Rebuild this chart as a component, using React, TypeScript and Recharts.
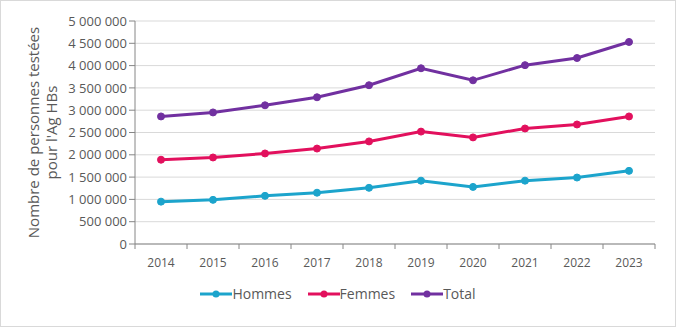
import React from 'react'
import { LineChart, Line, XAxis, YAxis, CartesianGrid, Legend } from 'recharts'

const years = ['2014', '2015', '2016', '2017', '2018', '2019', '2020', '2021', '2022', '2023']
const hommes = [950000, 990000, 1080000, 1150000, 1260000, 1420000, 1280000, 1420000, 1490000, 1640000]
const femmes = [1890000, 1940000, 2030000, 2140000, 2300000, 2520000, 2390000, 2590000, 2680000, 2860000]
const total = [2860000, 2950000, 3110000, 3290000, 3560000, 3940000, 3670000, 4010000, 4170000, 4530000]
const yTicks = [0, 500000, 1000000, 1500000, 2000000, 2500000, 3000000, 3500000, 4000000, 4500000, 5000000]

const series = [
  { key: 'hommes', name: 'Hommes', color: '#1ca4cc' },
  { key: 'femmes', name: 'Femmes', color: '#e2105d' },
  { key: 'total', name: 'Total', color: '#7130a0' },
]

const data = years.map((y, i) => ({ year: y, hommes: hommes[i], femmes: femmes[i], total: total[i] }))

const FONT = '"Open Sans", "Liberation Sans", sans-serif'
const TXT = '#595959'
const AXIS = '#868686'

// largeur de la zone de tracé, pour placer les graduations entre les années
const PLOT_W = 520
const BAND = PLOT_W / years.length

const fmt = (v: number) => v.toString().replace(/\B(?=(\d{3})+(?!\d))/g, ' ')

const XTick = (props: any) => {
  const { x, y, payload, index } = props
  return (
    <g>
      <line x1={x - BAND / 2} x2={x - BAND / 2} y1={y - 8} y2={y - 3} stroke={AXIS} />
      {index === years.length - 1 && (
        <line x1={x + BAND / 2} x2={x + BAND / 2} y1={y - 8} y2={y - 3} stroke={AXIS} />
      )}
      <text x={x} y={y + 15} textAnchor="middle" fill={TXT} fontSize={12} fontFamily={FONT}>
        {payload.value}
      </text>
    </g>
  )
}

const YLabel = (props: any) => {
  const vb = props.viewBox
  const cy = vb.y + vb.height / 2
  return (
    <text transform={`translate(38, ${cy}) rotate(-90)`} textAnchor="middle" fill={TXT} fontSize={15} fontFamily={FONT}>
      <tspan x={0} dy={0}>Nombre de personnes testées</tspan>
      <tspan x={0} dy={18}>pour l'Ag HBs</tspan>
    </text>
  )
}

const LegendContent = () => (
  <div style={{ display: 'flex', justifyContent: 'center', gap: 16, fontFamily: FONT, fontSize: 14, color: TXT }}>
    {series.map(s => (
      <div key={s.key} style={{ display: 'flex', alignItems: 'center' }}>
        <svg width={32} height={10}>
          <line x1={0} x2={32} y1={5} y2={5} stroke={s.color} strokeWidth={3} />
          <circle cx={16} cy={5} r={3.5} fill={s.color} />
        </svg>
        <span>{s.name}</span>
      </div>
    ))}
  </div>
)

export default function App() {
  return (
    <div style={{ position: 'absolute', left: 0, top: 0, width: 676, height: 327, boxSizing: 'border-box', border: '1px solid #d9d9d9', background: '#fff' }}>
      <LineChart width={674} height={325} data={data} margin={{ top: 20, right: 20, bottom: 33, left: 64 }}>
        <CartesianGrid stroke="#d9d9d9" vertical={false} />
        <XAxis
          dataKey="year"
          height={30}
          axisLine={{ stroke: AXIS }}
          tickLine={false}
          tick={<XTick />}
          interval={0}
          padding={{ left: BAND / 2, right: BAND / 2 }}
        />
        <YAxis
          width={70}
          domain={[0, 5000000]}
          ticks={yTicks}
          interval={0}
          tickFormatter={fmt}
          axisLine={{ stroke: AXIS }}
          tickLine={{ stroke: AXIS }}
          tickSize={6}
          tick={{ fill: TXT, fontSize: 13, fontFamily: FONT }}
          label={<YLabel />}
        />
        <Legend
          content={<LegendContent />}
          wrapperStyle={{ position: 'absolute', top: 283, left: 0, width: 674 }}
        />
        {series.map(s => (
          <Line
            key={s.key}
            dataKey={s.key}
            name={s.name}
            stroke={s.color}
            strokeWidth={3}
            dot={{ r: 3.5, fill: s.color, stroke: s.color, strokeWidth: 1 }}
            activeDot={false}
            isAnimationActive={false}
          />
        ))}
      </LineChart>
    </div>
  )
}
